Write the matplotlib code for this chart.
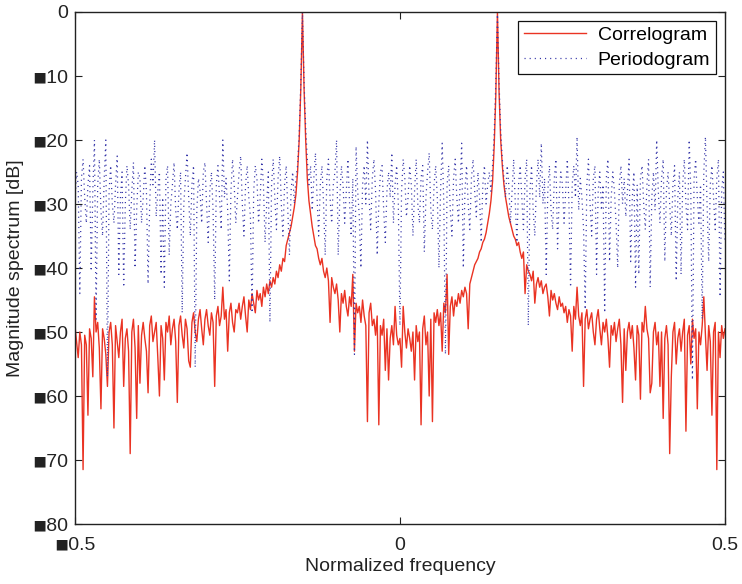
import numpy as np
import matplotlib
matplotlib.use("Agg")
import matplotlib.pyplot as plt

plt.rcParams['font.family'] = ['Liberation Sans', 'DejaVu Sans']

# values, one per frequency bin (401 bins, -0.5 .. 0.5)
correlogram_db = [
    -49, -51.5, -54, -50, -52, -71.5, -50.5, -52, -63, -49.5, -51, -57, -44.5, -50, -48.5, -52.5, -62, -49.5, -51, -53.5,
    -58.5, -50, -48.5, -52, -65, -49, -51.5, -54, -50, -48, -58.5, -51, -49.5, -53, -69, -50, -48, -52.5, -63.5, -49,
    -58, -50.5, -48.5, -51, -53, -59.5, -49, -47.5, -51.5, -50, -48.5, -54, -60, -49, -51, -57.5, -48.5, -50, -47.5, -52,
    -49.5, -48, -51.5, -61, -49, -47.5, -50.5, -52.5, -48, -49.5, -54.5, -55.5, -48.5, -47, -50, -51.5, -48, -46.5, -49.5, -52,
    -48, -46.5, -49, -50.5, -47, -48.5, -58.5, -47.5, -46, -49, -47.5, -43, -48, -46.5, -53, -47, -45.5, -48.5, -50, -46.5,
    -47, -45.5, -48, -46, -44.5, -47.5, -50, -45, -46.5, -44, -45.5, -47, -43.5, -45, -44, -46, -43, -44.5, -42.5, -44,
    -42, -43, -41.5, -42.5, -40.5, -41.5, -39.5, -40.5, -38.5, -39, -36.5, -35.5, -34.5, -33.5, -32, -30.5, -28.5, -25, -20, -12,
    0, -12, -20, -26, -29.5, -31.5, -33.5, -35, -36.5, -37, -38.5, -39.5, -38.5, -40.5, -41.5, -40, -42, -48.5, -41.5, -43,
    -44, -42.5, -45, -50, -44, -45.5, -43.5, -46, -47.5, -44.5, -46, -41, -53, -45.5, -47, -46, -48.5, -45, -47.5, -49,
    -64, -47, -45.5, -49, -48, -50.5, -47.5, -64.5, -49, -50.5, -48, -56, -49.5, -57.5, -51, -49, -52, -46, -50.5, -52,
    -51, -55.5, -46, -50, -52.5, -49.5, -51, -53, -50, -57.5, -49, -51.5, -50, -64.5, -49.5, -47.5, -52, -50, -60, -48,
    -64, -47, -48.5, -46.5, -49, -47, -53, -45.5, -47, -41, -53.5, -46, -44.5, -47.5, -45, -46, -44, -45.5, -43.5, -44.5,
    -43, -44, -49.5, -42.5, -41.5, -40.5, -39.5, -39, -38.5, -37.5, -37, -36, -35.5, -34.5, -33, -31.5, -29.5, -26.5, -21, -13,
    0, -12.5, -20, -24, -27, -29, -30.5, -32, -33, -34, -35, -35.5, -36.5, -36, -37.5, -38.5, -37.5, -44, -39.5, -40.5,
    -41, -42, -40.5, -45.5, -42.5, -41.5, -43, -42, -44, -43, -42.5, -44.5, -47.5, -43.5, -45, -44, -45.5, -46.5, -44.5, -46,
    -45.5, -47, -46, -48.5, -46.5, -47.5, -53, -46, -48, -43, -47.5, -49, -47, -58.5, -48, -46.5, -49.5, -48, -47, -50,
    -52, -48, -46.5, -49.5, -52, -48.5, -50, -48, -51, -55.5, -49, -50.5, -48.5, -51.5, -49.5, -48, -52, -61, -49.5, -56,
    -50, -48.5, -51, -49, -52.5, -57.5, -49, -50.5, -60.5, -48.5, -50, -46, -49.5, -51, -59.5, -58, -50, -48.5, -52, -50,
    -58.5, -50, -63.5, -51, -49, -52, -69, -57, -50, -48.5, -55, -51, -49.5, -53, -50, -48, -65.5, -50.5, -49, -55,
    -48, -51, -49.5, -62, -50, -52, -49, -44.5, -50.5, -56, -49, -51.5, -63, -50, -48.5, -71.5, -50, -54, -49, -51, -49.5,
]

periodogram_db = [
    -30, -25, -27, -44, -26, -23, -29, -33, -27, -24, -40.5, -28, -20, -48, -27, -23, -31, -35, -26, -20,
    -57, -28, -24, -30, -33, -27, -22.5, -41, -29, -25, -43, -30, -24, -27, -34, -28, -23.5, -40, -31, -25,
    -26, -33, -29, -24, -28, -42.5, -30, -23, -27, -20, -32, -28, -25, -41, -29, -43, -26, -24, -38, -30,
    -27, -23.5, -31, -34, -28, -25, -47, -30, -26, -22, -29, -35, -27, -24, -55.5, -31, -26, -28, -33, -25,
    -23.5, -30, -36, -28, -25, -31, -45, -27, -24, -29, -34, -20, -29, -26, -31, -42, -28, -23, -27, -33,
    -29, -25, -22.5, -30, -35, -27, -24, -29, -32, -47, -28, -24, -26, -33, -29, -23, -27, -36, -30, -25,
    -48.5, -27, -23, -29, -34, -26, -22.5, -30, -35, -27, -24, -31, -38, -28, -25, -30, -26, -24, -19, -11,
    0, -11, -18, -23, -27, -24, -31, -26, -22, -29, -35, -27, -24, -30, -38, -26, -23, -29, -33, -27,
    -25, -20, -38, -29, -24, -27, -33, -28, -23, -30, -35, -26, -53.5, -21, -28, -32, -40, -27, -24, -30,
    -20, -29, -34, -26, -23, -28, -38, -30, -25, -24, -31, -36, -28, -25, -29, -22, -33, -27, -24, -30,
    -49, -28, -23, -26, -32, -29, -24, -27, -35, -28, -23, -30, -33, -26, -24, -37.5, -29, -25, -22, -31,
    -34, -27, -24, -29, -40, -28, -20.5, -30, -53.5, -27, -24, -31, -35, -26, -23, -29, -33, -27, -20.5, -40,
    -28, -24, -30, -34, -26, -23, -28, -32, -25, -29, -36, -27, -24, -30, -27, -25, -28, -24, -19, -11,
    0, -11, -18.5, -23, -26, -29, -24, -27, -33, -28, -23, -30, -36, -27, -24, -29, -34, -26, -23, -49,
    -28, -24, -31, -35, -27, -23, -29, -20.5, -30, -26, -41, -28, -24, -31, -34, -26, -23, -37, -29, -25,
    -27, -33, -28, -23, -30, -43, -27, -24, -29, -19.5, -31, -26, -29, -34, -46.5, -27, -23, -30, -35, -26,
    -24, -41, -28, -25, -31, -27, -47, -26, -23, -39, -29, -25, -28, -33, -40, -27, -24, -30, -26, -32,
    -28, -23, -39, -29, -25, -43, -27, -41, -26, -24, -30, -34, -27, -23, -43, -29, -25, -31, -20, -28,
    -33, -26, -23, -39, -28, -25, -30, -35, -27, -24, -42, -29, -25, -41, -27, -23, -30, -34, -20, -28,
    -57.5, -26, -23, -29, -33, -27, -48, -25, -19.5, -30, -39, -27, -24, -29, -34, -26, -23, -44.5, -28, -25, -36,
]

y_ticks = [0, -10, -20, -30, -40, -50, -60, -70, -80]
x_ticks = [-0.5, 0, 0.5]

freq = np.linspace(-0.5, 0.5, len(correlogram_db))


def tick_text(v):
    # the minus sign shows up as a small box in the original figure
    s = f"{abs(v):g}"
    return "\u25fe" + s if v < 0 else s


fig = plt.figure(figsize=(7.42, 5.84), dpi=100)
ax = fig.add_axes([0.101, 0.1027, 0.876, 0.8768])

ax.plot(freq, correlogram_db, color='#ea3323', lw=1.0, label='Correlogram')
ax.plot(freq, periodogram_db, color='#3434a8', lw=0.9, ls=(0, (0.9, 3.2)),
        label='Periodogram')

ax.set_xlim(-0.5, 0.5)
ax.set_ylim(-80, 0)
ax.set_yticks(y_ticks)
ax.set_yticklabels([tick_text(v) for v in y_ticks])
ax.set_xticks(x_ticks)
ax.set_xticklabels([tick_text(v) for v in x_ticks])
ax.tick_params(direction='in', length=5, width=0.8, labelsize=14, top=True, right=True,
               colors='#222222')
ax.tick_params(axis='x', pad=9)
ax.tick_params(axis='y', pad=5)
for sp in ax.spines.values():
    sp.set_linewidth(1.0)
    sp.set_color('#222222')

ax.set_xlabel('Normalized frequency', fontsize=14, color='#222222', labelpad=3)
ax.set_ylabel('Magnitude spectrum [dB]', fontsize=14, color='#222222', labelpad=6)

leg = ax.legend(loc='upper right', fontsize=14, fancybox=False, framealpha=1,
                edgecolor='#111111', borderpad=0.3, handlelength=3.2, labelspacing=0.35,
                handletextpad=0.6, borderaxespad=0.45)
leg.get_frame().set_linewidth(0.9)

fig.savefig('out.png', dpi=100)
